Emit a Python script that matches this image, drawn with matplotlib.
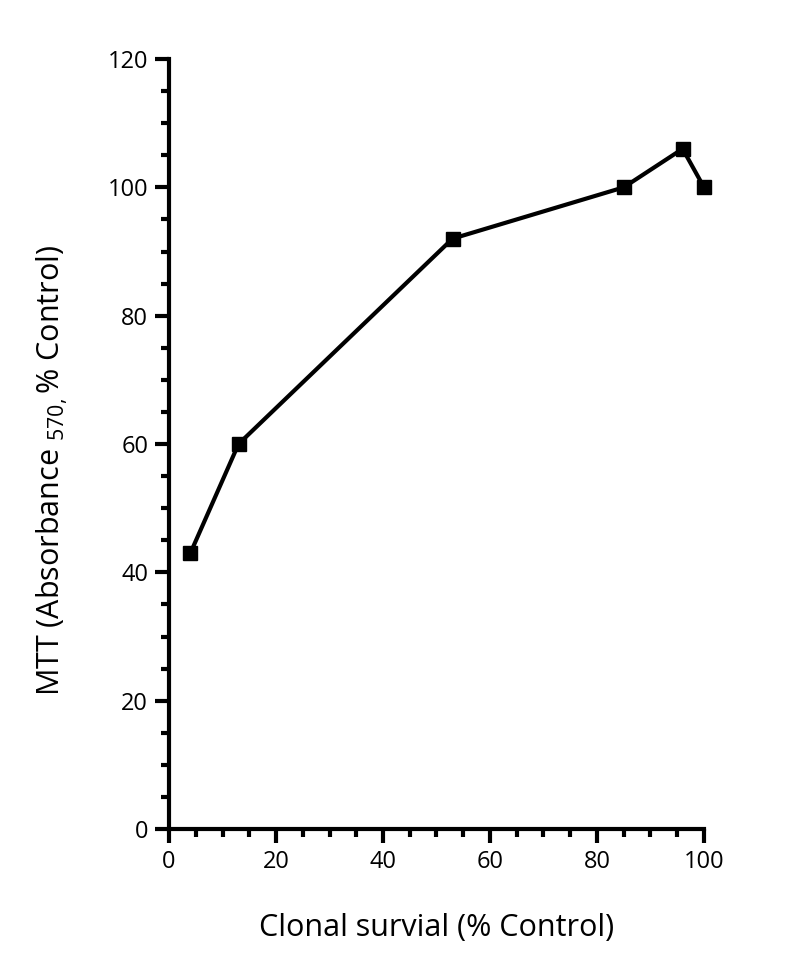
import matplotlib
matplotlib.use("Agg")
import matplotlib.pyplot as plt
from matplotlib.ticker import MultipleLocator

clonal_survival = [4, 13, 53, 85, 96, 100]
mtt_absorbance = [43, 60, 92, 100, 106, 100]
x_ticks = [0, 20, 40, 60, 80, 100]
y_ticks = [0, 20, 40, 60, 80, 100, 120]

plt.rcParams['font.family'] = ['Open Sans', 'DejaVu Sans']
plt.rcParams['mathtext.fontset'] = 'custom'
plt.rcParams['mathtext.rm'] = 'Open Sans'
plt.rcParams['mathtext.it'] = 'Open Sans'

fig = plt.figure(figsize=(8, 9.67), dpi=100)
ax = fig.add_axes([169/800, 1-829/967, (704-169)/800, (829-59)/967])

ax.plot(clonal_survival, mtt_absorbance, color='black', linewidth=3,
        marker='s', markersize=10, clip_on=False, zorder=3)

ax.set_xlim(0, 100)
ax.set_ylim(0, 120)
ax.set_xticks(x_ticks)
ax.set_yticks(y_ticks)
ax.xaxis.set_minor_locator(MultipleLocator(5))
ax.yaxis.set_minor_locator(MultipleLocator(5))

for s in ['top', 'right']:
    ax.spines[s].set_visible(False)
for s in ['left', 'bottom']:
    ax.spines[s].set_linewidth(3)

ax.tick_params(which='major', direction='out', length=10, width=3, labelsize=17, pad=5)
ax.tick_params(which='minor', direction='out', length=6, width=3)

ax.set_xlabel('Clonal survial (% Control)', fontsize=22, labelpad=28)
ax.set_ylabel(r'MTT (Absorbance $_{570,}$% Control)', fontsize=22)
ax.yaxis.set_label_coords(-0.185, 0.465)

fig.savefig('out.png', dpi=100)
